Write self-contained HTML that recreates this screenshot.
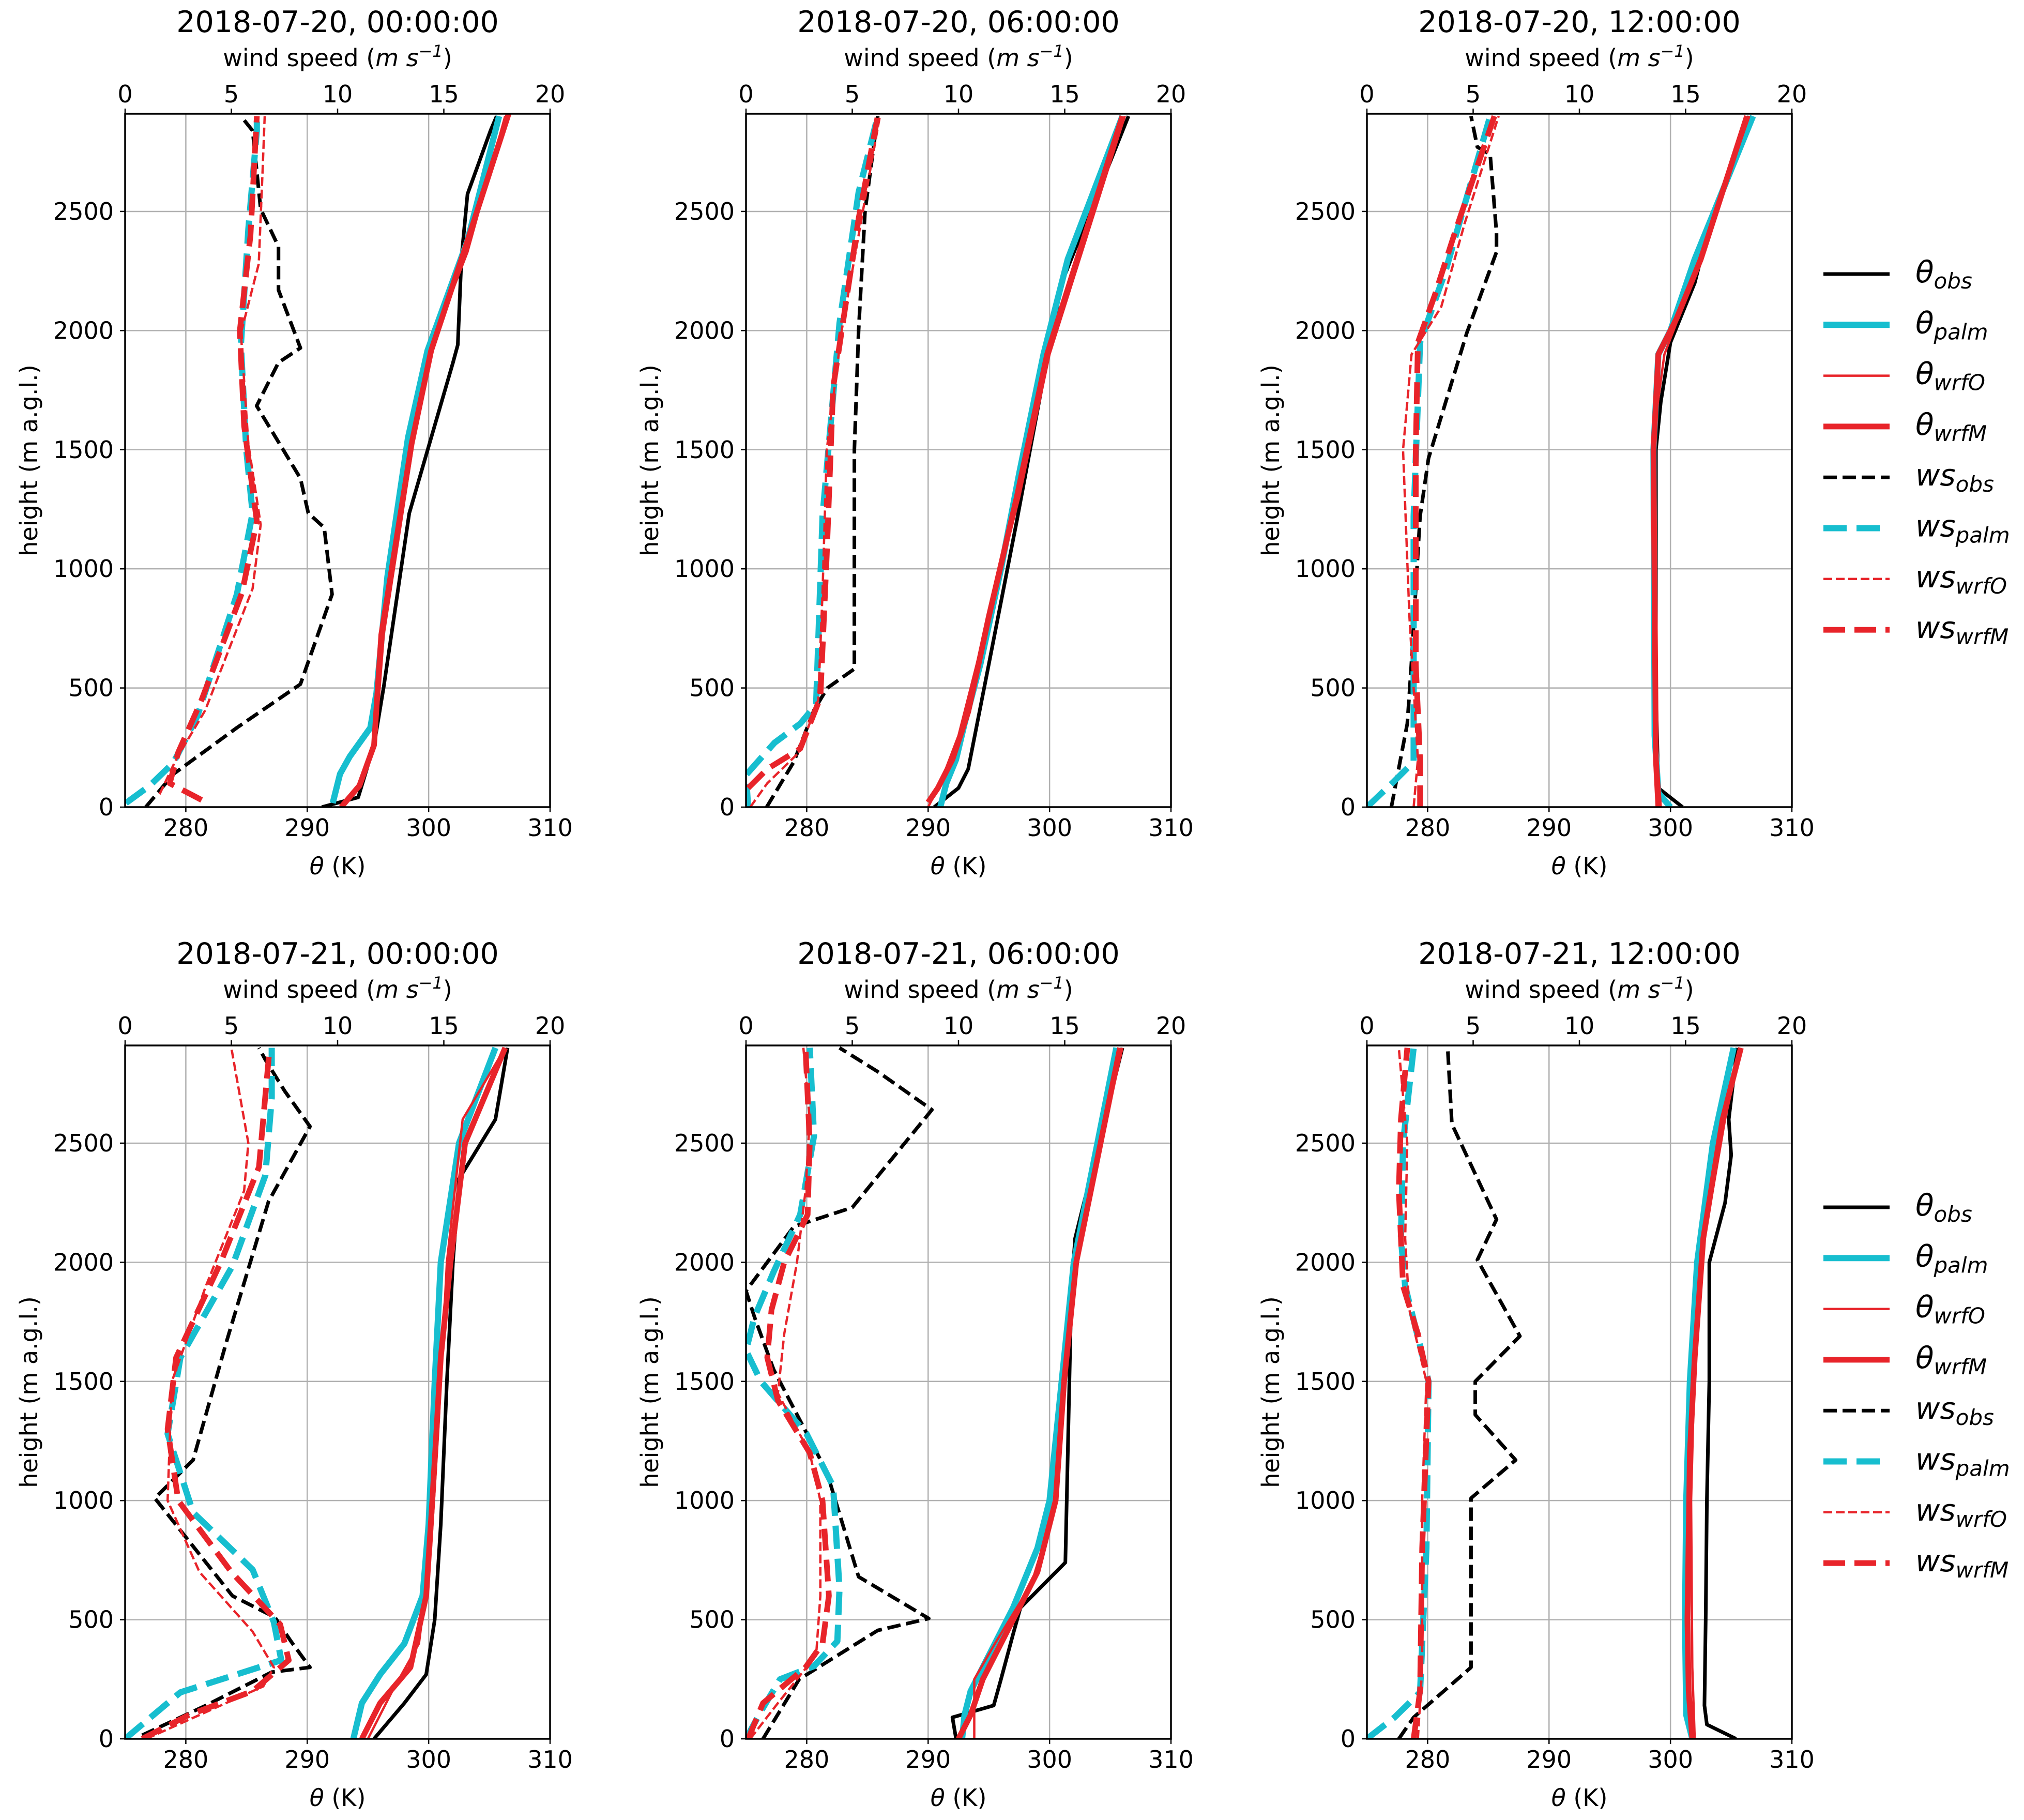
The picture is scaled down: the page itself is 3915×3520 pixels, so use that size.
<!DOCTYPE html>
<html><head><meta charset="utf-8">
<style>
html,body{margin:0;padding:0;background:#fff;}
svg{display:block;font-family:"DejaVu Sans","Liberation Sans",sans-serif;}
</style></head>
<body>
<svg id="fig" width="3915" height="3520" viewBox="0 0 3915 3520" xmlns="http://www.w3.org/2000/svg"></svg>
<script>
// ---- data: [value, height] pairs; theta in K, ws in m/s ----
const titles = ["2018-07-20, 00:00:00","2018-07-20, 06:00:00","2018-07-20, 12:00:00","2018-07-21, 00:00:00","2018-07-21, 06:00:00","2018-07-21, 12:00:00"];
const thetaTicks = [280,290,300,310];
const wsTicks = [0,5,10,15,20];
const heightTicks = [0,500,1000,1500,2000,2500];

const p1_thObs = [[291.2,0],[294.2,41],[295.5,260],[296.3,504],[298.4,1233],[302.0,1865],[302.4,1940],[302.7,2305],[303.2,2573],[305.1,2840],[305.6,2900]];
const p1_thPalm = [[292.1,17],[292.7,139],[293.5,212],[295.2,333],[295.7,479],[296.6,966],[298.3,1550],[299.9,1915],[303.2,2378],[305.8,2900]];
const p1_thWrfO = [[292.8,0],[294.4,90],[295.6,260],[296.3,723],[298.8,1550],[300.7,2000],[303.2,2330],[306.3,2900]];
const p1_thWrfM = [[292.8,0],[294.3,90],[295.5,260],[296.1,723],[298.6,1526],[300.2,1915],[302.9,2330],[306.6,2912]];
const p1_wsObs = [[0.97,0],[2.28,139],[5.26,333],[8.25,516],[9.74,893],[9.37,1173],[8.62,1234],[8.25,1380],[6.19,1684],[7.22,1866],[8.25,1927],[7.22,2170],[7.22,2352],[6.38,2510],[6.0,2839],[5.45,2900]];
const p1_wsPalm = [[0.04,17],[1.16,90],[2.28,187],[3.4,382],[5.26,893],[6.0,1234],[5.7,1501],[5.45,1940],[5.8,2426],[6.2,2839],[6.2,2900]];
const p1_wsWrfO = [[1.62,54],[2.4,200],[3.77,406],[6.0,917],[6.38,1185],[5.8,1525],[5.45,1989],[6.29,2280],[6.47,2670],[6.57,2900]];
const p1_wsWrfM = [[3.6,30],[2.1,100],[2.5,230],[3.6,450],[5.5,900],[6.2,1200],[5.6,1600],[5.4,2000],[5.9,2400],[6.2,2900]];

const p2_thObs = [[290.5,0],[292.5,80],[293.3,160],[295,600],[297.3,1200],[299.5,1800],[301,2200],[306.5,2900]];
const p2_thPalm = [[291,0],[291.5,100],[292.3,200],[293,350],[294.3,600],[296,1000],[297.5,1400],[299.5,1900],[301.5,2300],[306,2900]];
const p2_thWrfO = [[290,0],[291,100],[292.5,300],[294.5,700],[297.5,1300],[300,1900],[306.2,2900]];
const p2_thWrfM = [[290,20],[290.8,80],[292,200],[293.3,400],[295,800],[297.3,1300],[299.8,1900],[306,2900]];
const p2_wsObs = [[0.97,0],[2.25,190],[3.2,407],[3.83,500],[5.1,580],[5.1,1500],[5.3,2000],[5.6,2500],[6.2,2900]];
const p2_wsPalm = [[0.1,0],[0,135],[1.34,270],[2.55,350],[3.3,430],[3.6,1220],[4.4,2030],[5.3,2580],[6.2,2900]];
const p2_wsWrfO = [[0.2,0],[1.0,100],[2.5,230],[3.4,450],[3.6,900],[3.8,1500],[4.5,2000],[5.5,2500],[6.3,2900]];
const p2_wsWrfM = [[0.1,80],[1.0,160],[2.55,245],[3.5,460],[3.8,1060],[4.1,1760],[5.3,2470],[6.2,2900]];

const p3_thObs = [[301,0],[299,80],[298.8,500],[298.8,1500],[299.2,1700],[300,1950],[302,2200],[303,2400],[306.5,2900]];
const p3_thPalm = [[300,0],[299,60],[298.7,300],[298.6,1500],[299,1900],[300,2000],[302,2300],[306.8,2900]];
const p3_thWrfO = [[299.2,0],[298.8,300],[298.7,1600],[299.5,1900],[301,2100],[306.5,2900]];
const p3_thWrfM = [[299,0],[298.8,200],[298.6,1500],[299,1900],[300.5,2050],[302.5,2300],[306.3,2900]];
const p3_wsObs = [[1.15,0],[1.9,350],[2.07,570],[2.5,1220],[2.9,1464],[4.7,1990],[6.1,2330],[6.1,2410],[5.8,2740],[5.2,2770],[4.9,2900]];
const p3_wsPalm = [[0,0],[1.3,110],[2.2,190],[2.2,1220],[2.5,1950],[3.7,2250],[5.8,2900]];
const p3_wsWrfO = [[2.2,0],[2.4,200],[2.0,800],[1.7,1500],[2.1,1900],[3.5,2100],[4.6,2450],[6.2,2900]];
const p3_wsWrfM = [[2.5,0],[2.5,200],[2.3,600],[2.3,1500],[2.4,1950],[3.2,2150],[4.1,2400],[6.0,2900]];

const p4_thObs = [[295.5,0],[298,150],[299.8,270],[300.5,500],[301,900],[301.5,1500],[302,2000],[302.5,2350],[305.5,2600],[306,2750],[306.5,2900]];
const p4_thPalm = [[293.8,0],[294.5,150],[296,270],[298,400],[299.5,600],[300,900],[300.5,1500],[301,2000],[302.5,2500],[305.5,2900]];
const p4_thWrfO = [[295,0],[297,200],[299.2,400],[300.2,800],[300.8,1300],[301.5,2000],[302.8,2600],[306.3,2900]];
const p4_thWrfM = [[294.5,0],[296,150],[298.5,300],[299.8,600],[300.3,1000],[301,1600],[301.8,2000],[303,2500],[306.3,2900]];
const p4_wsObs = [[0.8,15],[3.8,140],[6.9,280],[8.7,300],[7.8,410],[7.05,510],[5.05,600],[1.4,1010],[3.2,1170],[4.75,1660],[6.75,2255],[8.7,2570],[7.5,2720],[6.6,2850],[6.3,2900]];
const p4_wsPalm = [[0,0],[2.6,195],[7.35,330],[7.0,490],[6.0,710],[3.2,950],[2.0,1280],[2.6,1600],[5.05,1985],[6.6,2365],[6.9,2690],[6.9,2900]];
const p4_wsWrfO = [[1,0],[3.5,100],[6.5,220],[7,300],[6,450],[3.5,700],[2.0,1000],[2.2,1500],[3.8,1900],[5.6,2300],[5.8,2500],[5.2,2800],[5.0,2900]];
const p4_wsWrfM = [[0.8,0],[3,100],[6,200],[7.7,330],[7.3,480],[5,700],[2.5,1000],[2,1300],[2.4,1600],[4.5,2000],[6.3,2400],[6.8,2900]];

const p5_thObs = [[292.3,0],[292,90],[295.4,140],[296,250],[297,440],[297.6,550],[301.3,740],[301.8,1880],[302.1,2100],[306,2900]];
const p5_thPalm = [[292.8,0],[293,100],[293.5,200],[295,350],[297,550],[299,800],[300,1000],[301,1500],[302,2000],[305.5,2900]];
const p5_thWrfO = [[293.8,0],[293.8,250],[295.5,400],[298.5,650],[300.6,1000],[301.4,1600],[302.5,2100],[306,2900]];
const p5_thWrfM = [[292.5,0],[293.5,100],[294.5,250],[296.5,450],[299,700],[300.5,1000],[301.2,1500],[302.2,2000],[305.8,2900]];
const p5_wsObs = [[0.8,0],[2.5,250],[6.2,455],[8.6,505],[5.3,680],[3.8,1120],[1.3,1550],[0.4,1770],[0,1880],[2.25,2150],[5.0,2230],[8.75,2640],[6.2,2800],[4.4,2900]];
const p5_wsPalm = [[0,0],[0.7,115],[1.6,250],[3.2,305],[4.3,410],[4.4,630],[4.1,1060],[2.85,1280],[0.7,1500],[0,1630],[0.4,1770],[1.3,1960],[2.55,2200],[3.2,2530],[3.0,2900]];
const p5_wsWrfO = [[0.2,0],[1.5,150],[3.3,350],[3.5,600],[3.5,1000],[3.0,1200],[1.5,1450],[1.8,1700],[2.4,2000],[2.8,2300],[3.0,2600],[2.7,2900]];
const p5_wsWrfM = [[0.1,0],[0.8,150],[2.8,300],[3.6,400],[3.9,600],[3.6,1000],[3.0,1200],[1.5,1420],[1.0,1600],[1.2,1800],[1.8,2000],[2.9,2200],[3.0,2500],[2.8,2900]];

const p6_thObs = [[305.4,0],[303,60],[302.8,140],[302.9,500],[303,1000],[303.2,1500],[303.2,2000],[304.5,2250],[305,2450],[304.8,2600],[305.5,2900]];
const p6_thPalm = [[301.8,0],[301.3,100],[301.2,500],[301.3,1000],[301.6,1500],[302.2,2000],[303.5,2500],[305.2,2900]];
const p6_thWrfO = [[302,0],[301.8,300],[301.7,1000],[302,1600],[302.8,2100],[304.5,2600],[305.8,2900]];
const p6_thWrfM = [[301.8,0],[301.5,200],[301.4,500],[301.6,1200],[302,1600],[302.7,2100],[304.3,2600],[305.8,2900]];
const p6_wsObs = [[1.5,0],[2.2,90],[4.9,300],[4.9,1010],[7.0,1170],[5.1,1360],[5.1,1500],[7.2,1690],[5.2,2010],[6.1,2180],[4.0,2580],[3.8,2900]];
const p6_wsPalm = [[0,0],[1.3,90],[2.5,195],[2.8,800],[2.9,1500],[2.5,1650],[1.8,1900],[1.6,2100],[1.7,2500],[2.2,2900]];
const p6_wsWrfO = [[2.4,0],[2.6,300],[2.6,1000],[2.8,1500],[2.0,1800],[1.8,2100],[1.9,2500],[1.5,2900]];
const p6_wsWrfM = [[2.2,0],[2.5,200],[2.6,800],[2.9,1500],[2.4,1700],[1.7,1900],[1.5,2300],[1.6,2600],[1.9,2900]];

const panels = [
 [p1_thObs,p1_thPalm,p1_thWrfO,p1_thWrfM,p1_wsObs,p1_wsPalm,p1_wsWrfO,p1_wsWrfM],
 [p2_thObs,p2_thPalm,p2_thWrfO,p2_thWrfM,p2_wsObs,p2_wsPalm,p2_wsWrfO,p2_wsWrfM],
 [p3_thObs,p3_thPalm,p3_thWrfO,p3_thWrfM,p3_wsObs,p3_wsPalm,p3_wsWrfO,p3_wsWrfM],
 [p4_thObs,p4_thPalm,p4_thWrfO,p4_thWrfM,p4_wsObs,p4_wsPalm,p4_wsWrfO,p4_wsWrfM],
 [p5_thObs,p5_thPalm,p5_thWrfO,p5_thWrfM,p5_wsObs,p5_wsPalm,p5_wsWrfO,p5_wsWrfM],
 [p6_thObs,p6_thPalm,p6_thWrfO,p6_thWrfM,p6_wsObs,p6_wsPalm,p6_wsWrfO,p6_wsWrfM]
];
const seriesNames = ["theta-obs","theta-palm","theta-wrfo","theta-wrfm","ws-obs","ws-palm","ws-wrfo","ws-wrfm"];
const CYAN="#17becf", RED="#e8242a";
const styles = [
 {c:"#000",w:7,d:null},{c:CYAN,w:12,d:null},{c:RED,w:4.5,d:null},{c:RED,w:11,d:null},
 {c:"#000",w:7,d:"26 11"},{c:CYAN,w:12,d:"45 19"},{c:RED,w:4.5,d:"17 7"},{c:RED,w:11,d:"42 18"}
];

const NS="http://www.w3.org/2000/svg";
const svg=document.getElementById('fig');
function mk(tag,attrs,parent){const e=document.createElementNS(NS,tag);for(const k in attrs)e.setAttribute(k,attrs[k]);(parent||svg).appendChild(e);return e;}

const AX_W=822, AX_H=1341, HMAX=2910;
const lefts=[242,1443,2644], tops=[220,2022];

panels.forEach((ser,pi)=>{
  const L=lefts[pi%3], T=tops[Math.floor(pi/3)], B=T+AX_H, R=L+AX_W;
  const g=mk('g',{});
  
  
  const xT=v=>L+(v-275)/35*AX_W;
  const xW=v=>L+v/20*AX_W;
  const yH=h=>B-h/HMAX*AX_H;
  // grid
  thetaTicks.forEach(t=>{const l=mk('line',{x1:xT(t),x2:xT(t),y1:T,y2:B,stroke:"#b0b0b0","stroke-width":2.5},g);
    });
  heightTicks.forEach(h=>{const l=mk('line',{x1:L,x2:R,y1:yH(h),y2:yH(h),stroke:"#b0b0b0","stroke-width":2.5},g);
    });
  // clip
  const cp=mk('clipPath',{id:'clip'+pi},g);mk('rect',{x:L,y:T,width:AX_W,height:AX_H},cp);
  ser.forEach((pts,si)=>{
    const st=styles[si]; const fx=si<4?xT:xW;
    const d=pts.map((p,i)=>(i?'L':'M')+fx(p[0]).toFixed(1)+' '+yH(p[1]).toFixed(1)).join(' ');
    const a={d:d,fill:"none",stroke:st.c,"stroke-width":st.w,"stroke-linejoin":"round","clip-path":"url(#clip"+pi+")"};
    if(st.d)a["stroke-dasharray"]=st.d;
    const p=mk('path',a,g);
    
    
  });
  // frame
  const fr=mk('rect',{x:L,y:T,width:AX_W,height:AX_H,fill:"none",stroke:"#000","stroke-width":3.5},g);
  
  // bottom ticks
  thetaTicks.concat([]).forEach(t=>{mk('line',{x1:xT(t),x2:xT(t),y1:B,y2:B+10,stroke:"#000","stroke-width":2.5},g);
    const tx=mk('text',{x:xT(t),y:B+56,"font-size":46,"text-anchor":"middle"},g);tx.textContent=t;
    });
  wsTicks.forEach(w=>{mk('line',{x1:xW(w),x2:xW(w),y1:T,y2:T-10,stroke:"#000","stroke-width":2.5},g);
    const tx=mk('text',{x:xW(w),y:T-22,"font-size":46,"text-anchor":"middle"},g);tx.textContent=w;
    });
  heightTicks.forEach(h=>{mk('line',{x1:L,x2:L-10,y1:yH(h),y2:yH(h),stroke:"#000","stroke-width":2.5},g);
    const tx=mk('text',{x:L-22,y:yH(h)+16,"font-size":46,"text-anchor":"end"},g);tx.textContent=h;
    });
  // labels
  const cx=L+AX_W/2;
  const ttl=mk('text',{x:cx,y:T-158,"font-size":57,"text-anchor":"middle"},g);ttl.textContent=titles[pi];
  
  const wl=mk('text',{x:cx,y:T-92,"font-size":46,"text-anchor":"middle"},g);
  wl.innerHTML='wind speed (<tspan font-style="italic">m s</tspan><tspan font-style="italic" font-size="32" dy="-18">−1</tspan><tspan dy="18">)</tspan>';
  
  const xl=mk('text',{x:cx,y:B+130,"font-size":46,"text-anchor":"middle"},g);
  xl.innerHTML='<tspan font-style="italic">θ</tspan> (K)';
  
  const yl=mk('text',{x:0,y:0,"font-size":46,"text-anchor":"middle",transform:`translate(${L-170},${T+AX_H/2}) rotate(-90)`},g);
  yl.textContent='height (m a.g.l.)';
  
});

// legends
const legLabels=[["θ","obs"],["θ","palm"],["θ","wrfO"],["θ","wrfM"],["ws","obs"],["ws","palm"],["ws","wrfO"],["ws","wrfM"]];
[530,2335].forEach((y0,li)=>{
  const g=mk('g',{});
  
  
  legLabels.forEach((lb,i)=>{
    const y=y0+i*98.3, st=styles[i];
    const a={x1:3527,x2:3655,y1:y,y2:y,stroke:st.c,"stroke-width":st.w};
    if(st.d)a["stroke-dasharray"]=st.d;
    const ln=mk('line',a,g);
    
    
    const t=mk('text',{x:3705,y:y+16,"font-size":58,"font-style":"italic"},g);
    t.innerHTML=lb[0]+'<tspan font-size="42" dy="12">'+lb[1]+'</tspan>';
    
    
  });
});
</script>
</body></html>
